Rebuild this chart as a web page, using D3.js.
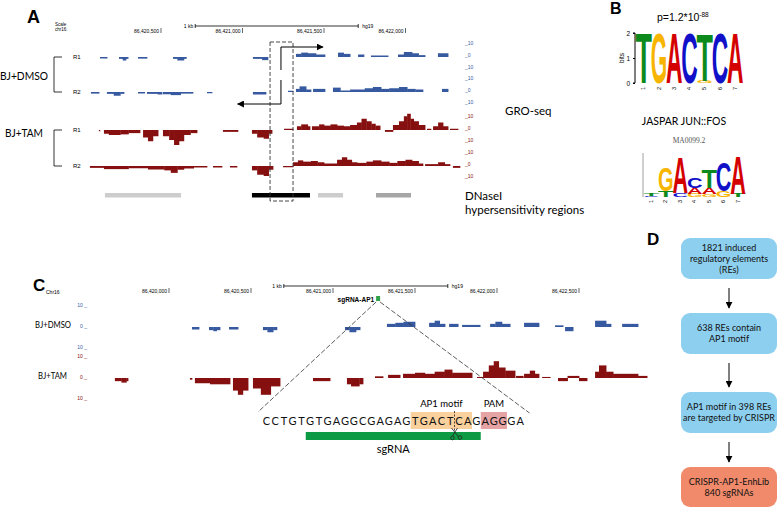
<!DOCTYPE html>
<html><head><meta charset="utf-8">
<script src="https://cdn.jsdelivr.net/npm/d3@7"></script>
<style>body{margin:0;background:#fff}svg{display:block}</style>
</head><body><svg id="c" width="778" height="507"></svg>
<script>
// ---------------- DATA ----------------
const chromStart = 86420000; // genomic offset origin (chr16)
const coordTicksA = [500, 1000, 1500, 2000];
const coordTicksC = [0, 500, 1000, 1500, 2000, 2500];
const scaleLabels = ["10", "0", "10"];
// GRO-seq signal segments: [startOffset, endOffset, signal]
const dmsoR1 = [[126,169,-1.2],[242,265,-1.5],[265,285,-2.8],[285,298,-1.5],[359,414,-1.3],[574,600,-1.5],[600,640,-2.8],[640,655,-1.5],[1064,1120,-1.5],[1120,1156,-2.5],
 [1328,1360,2.5],[1360,1400,3.5],[1400,1450,3],[1450,1506,2],[1586,1620,3.5],[1620,1660,2.5],[1709,1745,2],[1788,1893,1.2],[1954,1990,2],[1990,2040,4],[2040,2080,3],[2080,2120,1.5],[2199,2261,3]];
const dmsoR2 = [[70,120,-1.3],[168,210,-1.5],[210,250,-3],[250,273,-1.5],[359,400,-1.2],[414,480,-1.5],[480,506,-2],[512,560,-1.8],[560,620,-2.5],[620,696,-1.3],[782,813,-1],[1064,1144,-2],
 [1279,1310,1],[1328,1350,2.5],[1350,1390,4.5],[1390,1420,2],[1433,1506,2.5],[1555,1600,3.5],[1600,1660,1.2],[1660,1750,2],[1750,1800,3],[1800,1850,4],[1850,1900,2.5],[1900,1960,3],[1960,2010,4],[2010,2060,2.5],[2060,2107,2],[2224,2261,2.5]];
const tamR1 = [[119,125,-1],[150,180,-3],[180,250,-4],[250,300,-3.5],[300,371,-2.5],[390,420,-6],[420,450,-9],[450,482,-5],[512,550,-5],[550,580,-8],[580,610,-12],[610,640,-9],[640,680,-4],[680,721,-2.5],[880,972,-1.5],[1058,1090,-3],[1090,1130,-6],[1130,1160,-7],[1160,1181,-3],
 [1255,1310,1],[1334,1360,3],[1360,1400,4.5],[1400,1414,3],[1426,1470,3],[1470,1500,4.5],[1500,1540,3.5],[1540,1580,4.5],[1580,1620,3.5],[1620,1660,3],[1660,1702,4],[1702,1730,6],[1730,1760,9],[1760,1790,7],[1790,1815,5],[1815,1844,3.5],[1874,1923,-1.5],
 [1923,1960,4],[1960,1990,7],[1990,2010,11],[2010,2030,13],[2030,2050,9],[2050,2080,7],[2080,2120,4],[2132,2156,1],[2169,2200,3],[2200,2230,6],[2230,2261,3],[2273,2322,1]];
const tamR2 = [[64,150,-1.5],[150,300,-2.5],[300,420,-1.8],[420,520,-2.8],[520,560,-3.5],[560,600,-5.5],[600,640,-3],[640,700,-2],[700,782,-1.2],[819,874,-1.2],[923,966,-1.2],[1058,1090,-3.5],[1090,1130,-7],[1130,1160,-8],[1160,1187,-3],[1249,1310,-1],
 [1310,1340,3],[1340,1370,4.5],[1370,1420,3.5],[1420,1460,4],[1460,1500,3],[1500,1580,2],[1580,1610,5],[1610,1640,7],[1640,1670,5],[1670,1702,3],[1702,1760,2.5],[1760,1800,3.5],[1800,1850,4.5],[1850,1900,3.5],[1900,1950,2.5],[1950,2000,4],[2000,2040,5],[2040,2080,4],[2080,2107,2],
 [2120,2200,1.5],[2200,2240,3],[2240,2273,1.5],[2291,2334,-1.5]];
const dmsoC = [[140,183,-1.2],[244,270,-1.5],[270,290,-2],[290,311,-1.5],[366,421,-1.2],[573,600,-1.5],[600,635,-2.5],[635,658,-1.5],[1073,1100,-1.5],[1100,1140,-2.5],[1140,1165,-1.5],
 [1329,1380,1.5],[1380,1430,2],[1430,1500,2.5],[1586,1620,2],[1620,1650,3],[1650,1683,1.5],[1708,1763,1.5],[1787,1897,1],[1958,1990,1.5],[1990,2030,2.5],[2030,2080,1.5],[2165,2256,2],[2354,2403,0.8],[2415,2464,-2],[2598,2665,3],[2665,2695,1.5],[2763,2860,1.5]];
const tamC = [[-330,-290,-1.5],[-290,-260,-2.2],[-260,-250,-1.5],[128,140,-0.8],[158,250,-2.5],[250,372,-3],[390,420,-6],[420,450,-8],[450,482,-6],[512,560,-5],[560,620,-8],[620,677,-4],[878,982,-1.5],[1085,1110,-3],[1110,1160,-4],[1160,1183,-3],
 [1256,1305,0.8],[1336,1409,1.5],[1427,1500,2],[1500,1560,2.5],[1560,1620,2],[1620,1680,3],[1680,1726,4],[1726,1848,2.5],[1878,1915,0.5],[1915,1950,3],[1950,1980,6],[1980,2010,8],[2010,2050,5],[2050,2110,3.5],[2116,2160,1],
 [2165,2200,2],[2200,2230,3.5],[2230,2256,2],[2275,2324,0.5],[2372,2430,-1.5],[2430,2500,1],[2500,2549,-1.5],[2598,2622,3],[2622,2665,6],[2665,2708,3],[2708,2860,2],[2860,2915,1]];
// DNaseI hypersensitivity regions
const dnaseStart = [156, 1058, 1463, 1819];
const dnaseEnd   = [623, 1414, 1617, 2034];
const dnaseLevel = ["weak", "strong", "weak", "medium"];
// Motif logos: columns of [letter, bits] stacked bottom->top
const logoDenovo = [[["T",2]],[["G",2]],[["A",2]],[["C",2]],[["G",0.08],["T",1.9]],[["C",2]],[["A",2]]];
const logoJaspar = [[["C",0.05],["T",0.12]],[["T",0.27],["G",1.1]],[["C",0.2],["A",1.64]],[["G",0.15],["A",0.27],["C",0.45]],[["G",0.12],["A",0.27],["T",0.86]],[["G",0.27],["C",1.3]],[["T",0.15],["A",1.73]]];
// sgRNA target sequence
const sequence = "CCTGTGTGAGGCGAGAGTGACTCAGAGGGA";
const motifRange = [17, 24];
const pamRange = [25, 28];
const sgRange = [5, 25];
const cutIndex = 22;
// flowchart (panel D)
const flowSteps = [["1821 induced","regulatory elements","(REs)"],["638 REs contain","AP1 motif"],["AP1 motif in 398 REs","are targeted by CRISPR"],["CRISPR-AP1-EnhLib","840 sgRNAs"]];

// ---------------- DRAW ----------------
const svg = d3.select("#c");
const blue = "#36599f", red = "#861010";
const sans = "Lato, 'Open Sans', sans-serif", tiny = "'Liberation Sans', Arial, sans-serif";
const defs = svg.append("defs");
defs.append("marker").attr("id","ah").attr("viewBox","0 0 10 10").attr("refX",9).attr("refY",5)
  .attr("markerWidth",7).attr("markerHeight",7).attr("markerUnits","userSpaceOnUse").attr("orient","auto")
  .append("path").attr("d","M0,0L10,5L0,10Z").attr("fill","#000");

function label(t,x,y,o={}){
  return svg.append("text").attr("x",x).attr("y",y).text(t)
    .attr("font-family",o.ff||sans).attr("font-size",o.fs||11).attr("fill",o.fill||"#000")
    .attr("font-weight",o.fw||"normal").attr("text-anchor",o.anchor||"start");
}
function drawTrack(segs, x, y, color){
  svg.append("g").selectAll("rect").data(segs).join("rect")
    .attr("x", d=>x(d[0])).attr("width", d=>x(d[1])-x(d[0])+0.4)
    .attr("y", d=>Math.min(y(0), y(d[2]))).attr("height", d=>Math.max(0.8,Math.abs(y(d[2])-y(0))))
    .attr("fill", color);
}
function ruler(x, y, x0, x1){
  const g = svg.append("g").attr("stroke","#000").attr("stroke-width",0.8);
  g.append("line").attr("x1",x(x0)).attr("x2",x(x1)).attr("y1",y).attr("y2",y);
  g.append("line").attr("x1",x(x0)).attr("x2",x(x0)).attr("y1",y-2).attr("y2",y+2);
  g.append("line").attr("x1",x(x1)).attr("x2",x(x1)).attr("y1",y-2).attr("y2",y+2);
  label("1 kb", x(x0)-2, y+2, {ff:tiny, fs:5, anchor:"end"});
  label("hg19", x(x1)+4, y+2, {ff:tiny, fs:5});
}
function coordTicks(ticks, x, y){
  const g = svg.append("g");
  ticks.forEach(t=>{
    g.append("line").attr("x1",x(t)).attr("x2",x(t)).attr("y1",y-5).attr("y2",y).attr("stroke","#000").attr("stroke-width",0.6);
    g.append("text").attr("x",x(t)-2).attr("y",y).attr("text-anchor","end").attr("font-family",tiny).attr("font-size",5).text(d3.format(",")(chromStart+t));
  });
}

// ===== Panel A =====
const xA = d3.scaleLinear().domain([500,2000]).range([161,405.5]);
label("A", 27, 23, {ff:tiny, fs:18, fw:"bold"});
label("Scale", 55, 26, {ff:tiny, fs:4.5});
label("chr16:", 55, 31, {ff:tiny, fs:4.5});
ruler(xA, 26, 710, 1710);
coordTicks(coordTicksA, xA, 33);
const tracksA = [[dmsoR1,57,blue],[dmsoR2,92,blue],[tamR1,130,red],[tamR2,166,red]];
tracksA.forEach(([segs,base,col])=>{
  const y = d3.scaleLinear().domain([-10,10]).range([base+12.5, base-12.5]);
  drawTrack(segs, xA, y, col);
  [10,0,-10].forEach((v,i)=>label("_"+scaleLabels[i], 465, y(v)+(i==0?0.5:i==2?-0.5:0), {ff:tiny, fs:5, fill:col}));
});
["R1","R2","R1","R2"].forEach((t,i)=>label(t, 73, tracksA[i][1]+2, {ff:tiny, fs:6}));
[[0,1],[2,3]].forEach(([a,b])=>{
  const y0=tracksA[a][1], y1=tracksA[b][1];
  svg.append("path").attr("d",`M62,${y0}H54V${y1}H62`).attr("fill","none").attr("stroke","#000").attr("stroke-width",0.8);
});
label("BJ+DMSO", 0, 80, {fs:12}).attr("textLength",48).attr("lengthAdjust","spacingAndGlyphs");
label("BJ+TAM", 5, 137, {fs:12}).attr("textLength",38).attr("lengthAdjust","spacingAndGlyphs");
// DNase
const shade = {weak:"#cdcdcd", medium:"#a6a6a6", strong:"#000"};
svg.append("g").selectAll("rect").data(dnaseStart).join("rect")
  .attr("x",(d)=>xA(d)).attr("width",(d,i)=>xA(dnaseEnd[i])-xA(d)).attr("y",193).attr("height",4.5)
  .attr("fill",(d,i)=>shade[dnaseLevel[i]]);
label("GRO-seq", 505, 115, {fs:11.5});
label("DNaseI", 465, 200, {fs:11.5});
label("hypersensitivity regions", 465, 214, {fs:11.5});
// dashed box & TSS arrows
svg.append("rect").attr("x",xA(1169)).attr("y",42).attr("width",xA(1310)-xA(1169)).attr("height",159)
  .attr("fill","none").attr("stroke","#333").attr("stroke-width",0.9).attr("stroke-dasharray","4,2");
const tss = xA(1236);
svg.append("path").attr("d",`M${tss},70V47H${xA(1494)}`).attr("fill","none").attr("stroke","#000").attr("stroke-width",1).attr("marker-end","url(#ah)");
svg.append("path").attr("d",`M${tss},80V104H${xA(970)}`).attr("fill","none").attr("stroke","#000").attr("stroke-width",1).attr("marker-end","url(#ah)");

// ===== Panel B =====
label("B", 610, 14, {ff:tiny, fs:16, fw:"bold"});
const pt = label("p=1.2*10", 657, 21, {ff:tiny, fs:10.5});
pt.append("tspan").attr("dy",-4).attr("font-size",6.5).text("-88");
const logoColor = {A:"#d40000", C:"#1010c8", G:"#f7b500", T:"#0c8a1c"};
const logoFont = "'Liberation Sans', Arial, sans-serif";
// measure glyph advance widths
const adv = {};
["A","C","G","T"].forEach(ch=>{
  const t = svg.append("text").attr("font-family",logoFont).attr("font-weight","bold").attr("font-size",100).text(ch);
  adv[ch] = t.node().getComputedTextLength() || 70; t.remove();
});
function drawLogo(cols, x0, colW, bottom, pxPerBit, numY, axis){
  const x = d3.scaleBand().domain(d3.range(cols.length)).range([x0, x0+colW*cols.length]).padding(0.02);
  const g = svg.append("g");
  cols.forEach((col,i)=>{
    let yb = bottom;
    col.forEach(([ch,bits])=>{
      const h = bits*pxPerBit;
      const sx = x.bandwidth()*1.1/adv[ch];
      g.append("text").attr("transform",`translate(${x(i)-x.bandwidth()*0.05},${yb}) scale(${sx},${h/71.6})`)
        .attr("x",0).attr("y",0).attr("font-family",logoFont).attr("font-weight","bold")
        .attr("font-size",100).attr("fill",logoColor[ch]).text(ch);
      yb -= h;
    });
    g.append("text").attr("transform",`translate(${x(i)+x.bandwidth()/2+1.5},${numY}) rotate(-90)`).attr("text-anchor","end")
      .attr("font-family",tiny).attr("font-size",5.5).text(i+1);
  });
  if(axis){
    const y = d3.scaleLinear().domain([0,2]).range([bottom, bottom-2*pxPerBit]);
    const ag = svg.append("g").attr("transform",`translate(${x0-1},0)`).call(d3.axisLeft(y).ticks(2).tickSize(2).tickFormat(d3.format("d")));
    ag.selectAll("text").attr("font-size",6.5).attr("font-family",tiny);
    ag.select(".domain").attr("d",`M-2,${y(2)}H0V${y(0)}H-2`);
    svg.append("text").attr("transform",`translate(${x0-12},${y(1)}) rotate(-90)`).attr("text-anchor","middle").attr("font-family",tiny).attr("font-size",6.5).text("bits");
  } else {
    svg.append("line").attr("x1",x0-1).attr("x2",x0-1).attr("y1",bottom-44).attr("y2",bottom).attr("stroke","#888").attr("stroke-width",0.8);
  }
}
drawLogo(logoDenovo, 636, 15.3, 83, 25, 87, true);
label("JASPAR JUN::FOS", 684, 125, {fs:10.5, anchor:"middle"});
label("MA0099.2", 689, 143, {ff:"'Liberation Serif', serif", fs:7.5, fill:"#555", anchor:"middle"});
drawLogo(logoJaspar, 644, 14.5, 197, 22, 200, false);

// ===== Panel C =====
const xC = d3.scaleLinear().domain([1000,2000]).range([333,497]);
label("C", 33, 291, {ff:tiny, fs:17, fw:"bold"});
label("Chr16", 46, 294, {ff:tiny, fs:5});
ruler(xC, 286, 700, 1700);
coordTicks(coordTicksC, xC, 293);
const tracksC = [[dmsoC,328,blue],[tamC,379,red]];
tracksC.forEach(([segs,base,col])=>{
  const y = d3.scaleLinear().domain([-10,10]).range([base+20, base-22]);
  drawTrack(segs, xC, y, col);
  [10,0,-10].forEach((v,i)=>label(scaleLabels[i]+" _", 87, y(v)+1, {ff:tiny, fs:5, fill:col, anchor:"end"}));
});
label("BJ+DMSO", 71, 328, {fs:9, anchor:"end"}).attr("textLength",36).attr("lengthAdjust","spacingAndGlyphs");
label("BJ+TAM", 67, 379, {fs:9, anchor:"end"}).attr("textLength",29).attr("lengthAdjust","spacingAndGlyphs");
// sgRNA marker & zoom lines
const sgPos = 1275;
svg.append("rect").attr("x",xC(sgPos)-2).attr("y",296).attr("width",4).attr("height",5).attr("fill","#2fa24a");
label("sgRNA-AP1", xC(sgPos)-4, 302, {ff:tiny, fs:6.5, fw:"bold", anchor:"end"});
const xs = d3.scaleBand().domain(d3.range(sequence.length)).range([262, 262+8.75*sequence.length]);
const dl = svg.append("g").attr("stroke","#333").attr("stroke-width",0.8).attr("stroke-dasharray","5,2");
dl.append("line").attr("x1",xC(sgPos)-2).attr("y1",302).attr("x2",xs(0)-4).attr("y2",412);
dl.append("line").attr("x1",xC(sgPos)+2).attr("y1",302).attr("x2",xs(sequence.length-1)+xs.bandwidth()+5).attr("y2",413);
// highlight boxes
svg.append("rect").attr("x",xs(motifRange[0])).attr("width",xs(motifRange[1])-xs(motifRange[0])).attr("y",412).attr("height",17).attr("fill","#fad19c");
svg.append("rect").attr("x",xs(pamRange[0])).attr("width",xs(pamRange[1])-xs(pamRange[0])).attr("y",412).attr("height",17).attr("fill","#e6a3a3");
svg.append("g").selectAll("text").data(sequence.split("")).join("text")
  .attr("x",(d,i)=>xs(i)+xs.bandwidth()/2).attr("y",425).attr("text-anchor","middle")
  .attr("font-family",sans).attr("font-size",11).attr("fill","#111").text(d=>d);
label("AP1 motif", (xs(motifRange[0])+xs(motifRange[1]))/2, 407, {fs:9.5, anchor:"middle"});
label("PAM", (xs(pamRange[0])+xs(pamRange[1]))/2, 407, {fs:9.5, anchor:"middle"});
svg.append("rect").attr("x",xs(sgRange[0])).attr("width",xs(sgRange[1])-xs(sgRange[0])).attr("y",432).attr("height",8).attr("fill","#0c9a44");
label("sgRNA", (xs(sgRange[0])+xs(sgRange[1]))/2, 453, {fs:11, anchor:"middle"});
const cx = xs(cutIndex);
svg.append("line").attr("x1",cx).attr("x2",cx).attr("y1",411).attr("y2",432).attr("stroke","#222").attr("stroke-width",0.8).attr("stroke-dasharray","2,1.5");
const sc = svg.append("g").attr("fill","none").attr("stroke","#222").attr("stroke-width",0.8);
sc.append("path").attr("d",`M${cx-3},428L${cx+4},437M${cx+3},428L${cx-2},436`);
sc.append("circle").attr("cx",cx-2).attr("cy",438).attr("r",1.8);
sc.append("circle").attr("cx",cx+5.5).attr("cy",437.5).attr("r",1.8);

// ===== Panel D =====
label("D", 647, 245, {ff:tiny, fs:17, fw:"bold"});
const boxY = [238, 313, 392, 467], boxH = [41, 41, 41, 40];
const fd = svg.append("g");
flowSteps.forEach((lines,i)=>{
  fd.append("rect").attr("x",681).attr("y",boxY[i]).attr("width",96).attr("height",boxH[i]).attr("rx",9)
    .attr("fill", i==3 ? "#f08a6b" : "#8dcfee");
  const cy = boxY[i]+boxH[i]/2, lh = 11;
  lines.forEach((t,j)=>{
    fd.append("text").attr("x",729).attr("y",cy+(j-(lines.length-1)/2)*lh+3.3).attr("text-anchor","middle")
      .attr("font-family",sans).attr("font-size",9).attr("fill","#111").text(t);
  });
  if(i<3){
    fd.append("line").attr("x1",729).attr("x2",729).attr("y1",boxY[i]+boxH[i]+9).attr("y2",boxY[i+1]-5)
      .attr("stroke","#000").attr("stroke-width",1).attr("marker-end","url(#ah)");
  }
});
</script></body></html>
